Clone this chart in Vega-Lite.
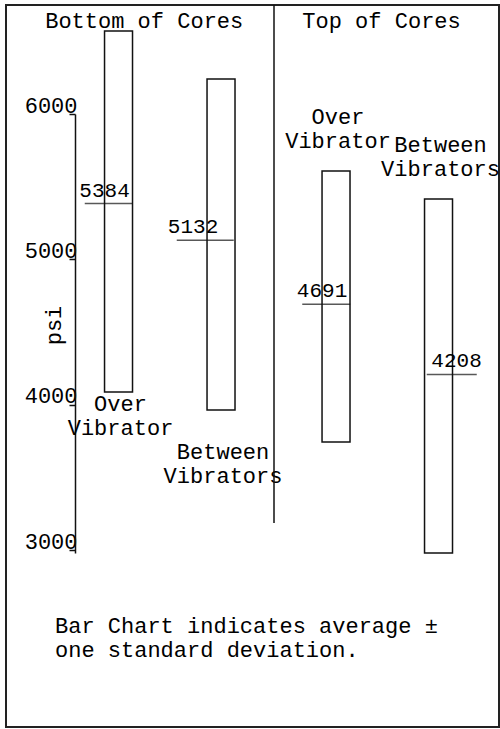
{
  "$schema": "https://vega.github.io/schema/vega-lite/v6.json",
  "width": 493,
  "height": 722,
  "autosize": {"type": "none"},
  "padding": {"left": 6, "top": 5, "right": 1, "bottom": 2},
  "background": "white",
  "config": {
    "font": "Liberation Mono",
    "view": {"stroke": "#222", "strokeWidth": 2},
    "text": {"font": "Liberation Mono", "color": "#000"}
  },
  "title": {
    "text": ["Bar Chart indicates average ±", "one standard deviation."],
    "orient": "bottom",
    "anchor": "start",
    "frame": "group",
    "offset": -111,
    "dx": 49,
    "font": "Liberation Mono",
    "fontSize": 22,
    "fontWeight": "normal",
    "color": "#000",
    "lineHeight": 24,
    "baseline": "top"
  },
  "data": {
    "values": [
      {"location": "Bottom of Cores", "position": "Over Vibrator", "mean": 5384, "low": 4088, "high": 6571},
      {"location": "Bottom of Cores", "position": "Between Vibrators", "mean": 5132, "low": 3964, "high": 6241},
      {"location": "Top of Cores", "position": "Over Vibrator", "mean": 4691, "low": 3744, "high": 5608},
      {"location": "Top of Cores", "position": "Between Vibrators", "mean": 4208, "low": 2980, "high": 5415}
    ]
  },
  "layer": [
    {
      "mark": {"type": "bar", "filled": false, "color": "#111", "strokeWidth": 1.5},
      "encoding": {
        "x": {
          "field": "location",
          "type": "nominal",
          "scale": {"domain": ["Bottom of Cores", "Top of Cores"], "range": [50.5, 485.5], "paddingInner": 0, "paddingOuter": 0},
          "axis": {
            "orient": "top",
            "title": null,
            "domain": false,
            "ticks": false,
            "grid": false,
            "offset": -30,
            "labelPadding": 8,
            "labelBaseline": "alphabetic",
            "labelAlign": "right",
            "labelOffset": 78,
            "labelAngle": 0,
            "labelFont": "Liberation Mono",
            "labelFontSize": 22,
            "labelColor": "#000",
            "labelLimit": 0
          }
        },
        "xOffset": {
          "field": "position",
          "type": "nominal",
          "scale": {"domain": ["Over Vibrator", "Between Vibrators"], "paddingInner": 0.727, "paddingOuter": 0.4245, "align": 0.552}
        },
        "y": {
          "field": "low",
          "type": "quantitative",
          "scale": {"domain": [2980, 6000], "range": [548, 109], "nice": false, "zero": false},
          "axis": {
            "orient": "left",
            "offset": -69,
            "values": [3000, 4000, 5000, 6000],
            "format": "d",
            "grid": false,
            "domainColor": "#111",
            "domainWidth": 1.5,
            "tickColor": "#111",
            "tickWidth": 1.5,
            "tickSize": 6,
            "labelPadding": -8,
            "labelBaseline": "alphabetic",
            "labelOffset": -2,
            "labelFont": "Liberation Mono",
            "labelFontSize": 22,
            "labelColor": "#000",
            "labelFlush": false,
            "labelOverlap": false,
            "title": "psi",
            "titleFont": "Liberation Mono",
            "titleFontSize": 22,
            "titleFontWeight": "normal",
            "titleColor": "#000",
            "titleAngle": 270,
            "titleX": -22,
            "titleY": 320,
            "titleAlign": "center",
            "titleBaseline": "middle"
          }
        },
        "y2": {"field": "high"}
      }
    },
    {
      "transform": [{"filter": "datum.position === 'Over Vibrator'"}],
      "mark": {"type": "tick", "color": "#111", "size": 48, "thickness": 1.5, "orient": "horizontal", "xOffset": -56.5},
      "encoding": {
        "x": {"field": "location", "type": "nominal"},
        "y": {"field": "mean", "type": "quantitative"}
      }
    },
    {
      "transform": [{"filter": "datum.location === 'Bottom of Cores' && datum.position === 'Between Vibrators'"}],
      "mark": {"type": "tick", "color": "#111", "size": 57, "thickness": 1.5, "orient": "horizontal", "xOffset": 40},
      "encoding": {
        "x": {"field": "location", "type": "nominal"},
        "y": {"field": "mean", "type": "quantitative"}
      }
    },
    {
      "transform": [{"filter": "datum.location === 'Top of Cores' && datum.position === 'Between Vibrators'"}],
      "mark": {"type": "tick", "color": "#111", "size": 50, "thickness": 1.5, "orient": "horizontal", "xOffset": 69},
      "encoding": {
        "x": {"field": "location", "type": "nominal"},
        "y": {"field": "mean", "type": "quantitative"}
      }
    },
    {
      "transform": [{"filter": "datum.position === 'Over Vibrator'"}],
      "mark": {"type": "text", "dx": -14, "dy": -7, "baseline": "alphabetic", "align": "center", "fontSize": 21, "color": "#000"},
      "encoding": {
        "x": {"field": "location", "type": "nominal"},
        "xOffset": {"field": "position", "type": "nominal"},
        "y": {"field": "mean", "type": "quantitative"},
        "text": {"field": "mean", "type": "quantitative", "format": "d"}
      }
    },
    {
      "transform": [{"filter": "datum.location === 'Bottom of Cores' && datum.position === 'Between Vibrators'"}],
      "mark": {"type": "text", "dx": -28, "dy": -7, "baseline": "alphabetic", "align": "center", "fontSize": 21, "color": "#000"},
      "encoding": {
        "x": {"field": "location", "type": "nominal"},
        "xOffset": {"field": "position", "type": "nominal"},
        "y": {"field": "mean", "type": "quantitative"},
        "text": {"field": "mean", "type": "quantitative", "format": "d"}
      }
    },
    {
      "transform": [{"filter": "datum.location === 'Top of Cores' && datum.position === 'Between Vibrators'"}],
      "mark": {"type": "text", "dx": 18, "dy": -7, "baseline": "alphabetic", "align": "center", "fontSize": 21, "color": "#000"},
      "encoding": {
        "x": {"field": "location", "type": "nominal"},
        "xOffset": {"field": "position", "type": "nominal"},
        "y": {"field": "mean", "type": "quantitative"},
        "text": {"field": "mean", "type": "quantitative", "format": "d"}
      }
    },
    {
      "transform": [{"filter": "datum.location === 'Bottom of Cores'"}],
      "mark": {"type": "text", "dx": 2, "dy": 373, "baseline": "middle", "align": "center", "fontSize": 22, "lineBreak": " ", "lineHeight": 24, "color": "#000"},
      "encoding": {
        "x": {"field": "location", "type": "nominal"},
        "xOffset": {"field": "position", "type": "nominal"},
        "y": {"field": "high", "type": "quantitative"},
        "text": {"field": "position", "type": "nominal"}
      }
    },
    {
      "transform": [{"filter": "datum.location === 'Top of Cores'"}],
      "mark": {"type": "text", "dx": 2, "dy": -54, "baseline": "middle", "align": "center", "fontSize": 22, "lineBreak": " ", "lineHeight": 24, "color": "#000"},
      "encoding": {
        "x": {"field": "location", "type": "nominal"},
        "xOffset": {"field": "position", "type": "nominal"},
        "y": {"field": "high", "type": "quantitative"},
        "text": {"field": "position", "type": "nominal"}
      }
    },
    {
      "data": {"values": [{}]},
      "mark": {"type": "rule", "color": "#111", "strokeWidth": 1.5},
      "encoding": {
        "x": {"datum": "Top of Cores", "type": "nominal", "bandPosition": 0},
        "y": {"datum": 3186, "type": "quantitative"},
        "y2": {"datum": 6750}
      }
    }
  ]
}
